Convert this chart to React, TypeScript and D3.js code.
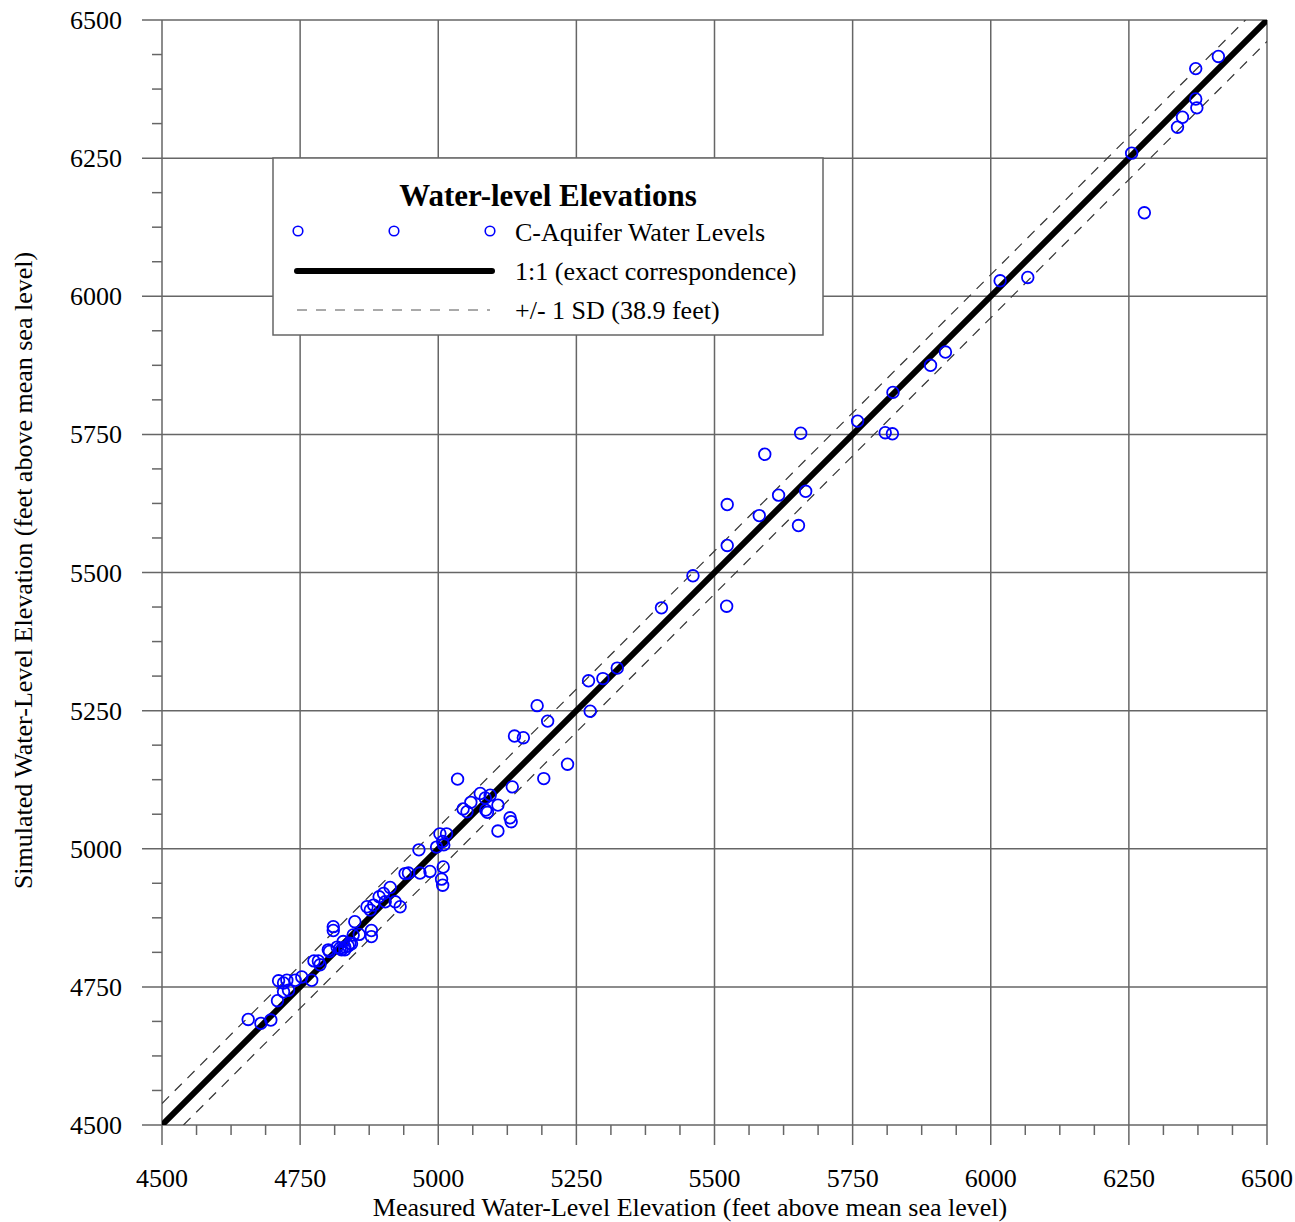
import { useMemo } from "react"
import * as d3 from "d3"

// measured vs simulated water-level elevations (feet)
const measured = [
  6412, 6371, 6371, 6373, 6347, 6338, 6255, 6278,
  6017, 6067, 5918, 5891, 5823, 5759, 5656, 5809, 5822,
  5591, 5523, 5616, 5665, 5581, 5652, 5523, 5461, 5404, 5522,
  5272, 5298, 5324, 5179, 5198, 5275, 5138, 5154, 5234, 5191,
  5035, 5134, 5076, 5094, 5085, 5059, 5108, 5045, 5052, 5086, 5089, 5130, 5132, 5108,
  5003, 5015, 5008, 5010, 4997, 4965,
  5009, 5008, 5006, 4985, 4967, 4946, 4940, 4913, 4901, 4893, 4904, 4922, 4931,
  4871, 4883, 4877, 4849, 4810, 4810, 4879, 4879, 4846, 4857, 4840, 4831, 4825, 4801, 4837, 4817,
  4656, 4679, 4697, 4709, 4711, 4720, 4726, 4720, 4729, 4741, 4753, 4771, 4775, 4783, 4786,
  4803, 4822, 4831, 4828, 4843,
]
const simulated = [
  6434, 6412, 6357, 6341, 6324, 6306, 6259, 6151,
  6028, 6034, 5899, 5875, 5826, 5774, 5752, 5753, 5751,
  5714, 5623, 5640, 5647, 5603, 5585, 5549, 5494, 5436, 5439,
  5304, 5308, 5327, 5259, 5231, 5249, 5204, 5201, 5153, 5127,
  5126, 5112, 5100, 5097, 5092, 5084, 5079, 5072, 5067, 5070, 5066, 5056, 5049, 5032,
  5027, 5027, 5013, 5007, 5003, 4998,
  4967, 4934, 4945, 4959, 4956, 4956, 4955, 4930, 4919, 4913, 4904, 4904, 4895,
  4895, 4898, 4889, 4868, 4859, 4852, 4852, 4841, 4844, 4845, 4829, 4822, 4817, 4817, 4824, 4822,
  4691, 4684, 4690, 4725, 4761, 4757, 4762, 4741, 4744, 4762, 4768, 4762, 4797, 4797, 4790,
  4814, 4820, 4817, 4832, 4828,
]
const tickValues = [4500, 4750, 5000, 5250, 5500, 5750, 6000, 6250, 6500]
const sd = 38.9

const legendItems = [
  "C-Aquifer Water Levels",
  "1:1 (exact correspondence)",
  "+/- 1 SD (38.9 feet)",
]

const W = 1295
const H = 1222
const left = 162
const right = 1267
const top = 20
const bottom = 1125
const font = "'Liberation Serif', 'Times New Roman', serif"
const gridColor = "#666"

export default function App() {
  const x = d3.scaleLinear().domain([4500, 6500]).range([left, right])
  const y = d3.scaleLinear().domain([4500, 6500]).range([bottom, top])

  const points = useMemo(
    () => measured.map((m, i) => ({ m, s: simulated[i] })),
    []
  )
  const minor = d3.range(4500, 6500, 62.5).filter((v) => (v - 4500) % 250 !== 0)

  const line = d3
    .line<[number, number]>()
    .x((d) => x(d[0]))
    .y((d) => y(d[1]))

  return (
    <div style={{ position: "absolute", left: 0, top: 0 }}>
      <svg width={W} height={H} style={{ display: "block", background: "#fff" }}>
        <defs>
          <clipPath id="plot">
            <rect x={left} y={top} width={right - left} height={bottom - top} />
          </clipPath>
        </defs>

        {/* grid and major ticks */}
        {tickValues.map((v) => (
          <g key={"g" + v}>
            <line x1={x(v)} x2={x(v)} y1={top} y2={bottom + 20} stroke={gridColor} strokeWidth={1.5} />
            <line x1={left - 20} x2={right} y1={y(v)} y2={y(v)} stroke={gridColor} strokeWidth={1.5} />
          </g>
        ))}
        {minor.map((v) => (
          <g key={"m" + v}>
            <line x1={x(v)} x2={x(v)} y1={bottom} y2={bottom + 10} stroke={gridColor} strokeWidth={1.5} />
            <line x1={left - 10} x2={left} y1={y(v)} y2={y(v)} stroke={gridColor} strokeWidth={1.5} />
          </g>
        ))}

        {/* tick labels */}
        {tickValues.map((v) => (
          <text key={"xt" + v} x={x(v)} y={bottom + 62} textAnchor="middle" fontFamily={font} fontSize={26}>
            {v}
          </text>
        ))}
        {tickValues.map((v) => (
          <text key={"yt" + v} x={left - 40} y={y(v) + 9} textAnchor="end" fontFamily={font} fontSize={26}>
            {v}
          </text>
        ))}

        {/* axis titles */}
        <text x={690} y={1216} textAnchor="middle" fontFamily={font} fontSize={26}>
          Measured Water-Level Elevation (feet above mean sea level)
        </text>
        <text
          transform={`translate(32, ${(top + bottom) / 2 - 2}) rotate(-90)`}
          textAnchor="middle"
          fontFamily={font}
          fontSize={26}
        >
          Simulated Water-Level Elevation (feet above mean sea level)
        </text>

        <g clipPath="url(#plot)">
          <path
            d={line([[4500, 4500 + sd], [6500 - sd, 6500]]) || ""}
            stroke="#333"
            strokeWidth={1.2}
            strokeDasharray="10,8"
            fill="none"
          />
          <path
            d={line([[4500 + sd, 4500], [6500, 6500 - sd]]) || ""}
            stroke="#333"
            strokeWidth={1.2}
            strokeDasharray="10,8"
            fill="none"
          />
          <path
            d={line([[4500, 4500], [6500, 6500]]) || ""}
            stroke="#000"
            strokeWidth={6}
            fill="none"
          />
          {points.map((p, i) => (
            <circle
              key={i}
              cx={x(p.m)}
              cy={y(p.s)}
              r={5.8}
              fill="none"
              stroke="#0000ff"
              strokeWidth={1.8}
            />
          ))}
        </g>

        {/* legend */}
        <g>
          <rect x={273} y={158} width={550} height={177} fill="#fff" stroke={gridColor} strokeWidth={1.5} />
          <text x={548} y={206} textAnchor="middle" fontFamily={font} fontSize={31} fontWeight="bold">
            Water-level Elevations
          </text>
          {[298, 394, 490].map((cx) => (
            <circle key={cx} cx={cx} cy={231} r={4.8} fill="none" stroke="#0000ff" strokeWidth={1.6} />
          ))}
          <line x1={297} x2={492} y1={271} y2={271} stroke="#000" strokeWidth={6} strokeLinecap="round" />
          <line x1={297} x2={490} y1={310} y2={310} stroke="#555" strokeWidth={1} strokeDasharray="10,9" />
          {legendItems.map((t, i) => (
            <text key={t} x={515} y={241 + i * 39} fontFamily={font} fontSize={26}>
              {t}
            </text>
          ))}
        </g>
      </svg>
    </div>
  )
}
